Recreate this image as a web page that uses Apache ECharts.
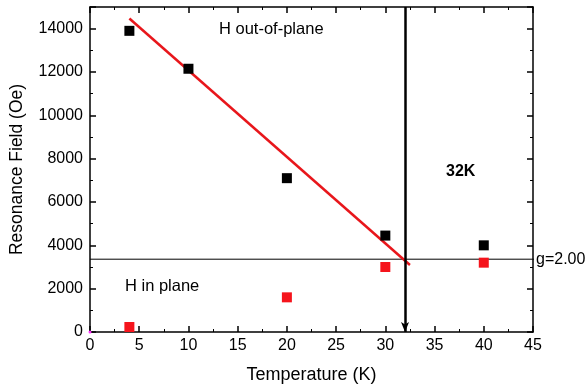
<!DOCTYPE html>
<html><head><meta charset="utf-8">
<script src="https://cdn.jsdelivr.net/npm/echarts@6/dist/echarts.min.js"></script>
<style>html,body{margin:0;padding:0;background:#fff}#c{width:587px;height:390px}</style>
</head><body><div id="c"></div>
<script>
const outOfPlaneT = [4, 10, 20, 30, 40];
const outOfPlaneH = [13900, 12150, 7100, 4450, 4000];
const inPlaneT = [4, 20, 30, 40];
const inPlaneH = [230, 1600, 3000, 3200];
const fitT = [4, 32.5];
const fitH = [14470, 3090];
const gLineT = [0, 45.1];
const gLineH = 3360;
const tcT = 32;

const font = 'Liberation Sans, Arial, sans-serif';
const chart = echarts.init(document.getElementById('c'));
const axisCommon = {
  axisLine: {show: true, onZero: false, lineStyle: {color: '#000', width: 1.5}},
  axisTick: {show: true, inside: true, length: 6, lineStyle: {color: '#000', width: 1.5}},
  minorTick: {show: true, splitNumber: 2, length: 3, lineStyle: {color: '#000', width: 1}},
  splitLine: {show: false},
  minorSplitLine: {show: false}
};
chart.setOption({
  animation: false,
  grid: {left: 87, right: 54, top: 7, bottom: 58},
  xAxis: [
    Object.assign({type: 'value', min: 0, max: 45, interval: 5, position: 'bottom',
      name: 'Temperature (K)', nameLocation: 'middle', nameGap: 34,
      nameTextStyle: {fontFamily: font, fontSize: 18, color: '#000'},
      axisLabel: {fontFamily: font, fontSize: 16, color: '#000', margin: 6}}, axisCommon),
    Object.assign({type: 'value', min: 0, max: 45, interval: 5, position: 'top',
      axisLabel: {show: false}}, axisCommon)
  ],
  yAxis: [
    Object.assign({type: 'value', min: 0, max: 15000, interval: 2000, position: 'left',
      name: 'Resonance Field (Oe)', nameLocation: 'middle', nameGap: 64,
      nameTextStyle: {fontFamily: font, fontSize: 17.5, color: '#000'},
      axisLabel: {fontFamily: font, fontSize: 16, color: '#000', margin: 7,
        formatter: v => (v % 2000 === 0 ? String(v) : '')}}, axisCommon),
    Object.assign({type: 'value', min: 0, max: 15000, interval: 2000, position: 'right',
      axisLabel: {show: false}}, axisCommon)
  ],
  series: [
    {type: 'line', data: gLineT.map(t => [t, gLineH]), showSymbol: false, clip: false,
     lineStyle: {color: '#000', width: 1}, z: 2,
     endLabel: {show: true, formatter: 'g=2.00', fontFamily: font, fontSize: 16, color: '#000', distance: 2}},
    {type: 'line', data: fitT.map((t, i) => [t, fitH[i]]), showSymbol: false,
     lineStyle: {color: '#e8161b', width: 2.5}, z: 3},
    {type: 'scatter', data: outOfPlaneT.map((t, i) => [t, outOfPlaneH[i]]), symbol: 'rect', symbolSize: 10,
     itemStyle: {color: '#000', opacity: 1}, z: 4},
    {type: 'scatter', data: inPlaneT.map((t, i) => [t, inPlaneH[i]]), symbol: 'rect', symbolSize: 10,
     itemStyle: {color: '#f5141c', opacity: 1}, z: 4},
    {type: 'scatter', data: [[0, 0]], symbol: 'circle', symbolSize: 3, clip: false,
     itemStyle: {color: '#ff33ff', opacity: 1}, z: 5,
     markLine: {silent: true, symbol: ['none', 'arrow'], symbolSize: [6, 10],
       lineStyle: {color: '#000', width: 2.5, type: 'solid'}, label: {show: false},
       data: [[{coord: [tcT, 15000]}, {coord: [tcT, 0]}]]}}
  ],
  graphic: [
    {type: 'text', left: 219, top: 21, style: {text: 'H out-of-plane', font: '16.5px ' + font, fill: '#000'}},
    {type: 'text', left: 125, top: 278, style: {text: 'H in plane', font: '16.5px ' + font, fill: '#000'}},
    {type: 'text', left: 446, top: 164, style: {text: '32K', font: 'bold 16px ' + font, fill: '#000'}}
  ]
});
</script></body></html>
